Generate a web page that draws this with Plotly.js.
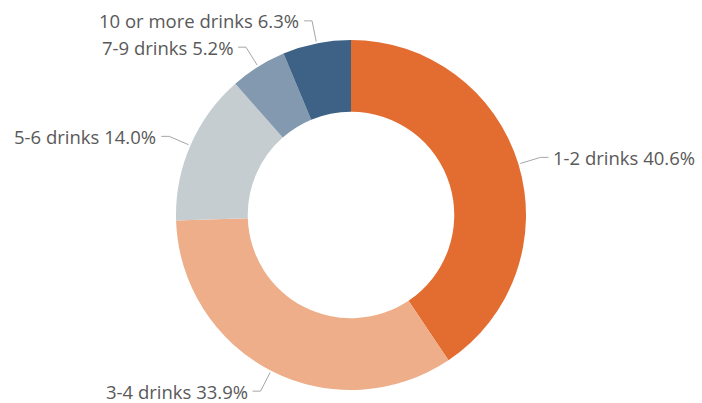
<!DOCTYPE html>
<html><head><meta charset="utf-8">
<script src="https://cdn.plot.ly/plotly-3.0.1.min.js"></script>
<style>html,body{margin:0;padding:0;background:#fff}#chart{width:702px;height:403px}</style>
</head><body><div id="chart"></div>
<script>
const categories = ["1-2 drinks", "3-4 drinks", "5-6 drinks", "7-9 drinks", "10 or more drinks"];
const values = [40.6, 33.9, 14.0, 5.2, 6.3];
const colors = ["#E36C30", "#EDAE89", "#C6CDD1", "#8299B0", "#3D6286"];

const W = 702, H = 403;
const dom = {x: [176 / W, 526 / W], y: [(H - 390) / H, (H - 40) / H]};
const cx = (dom.x[0] + dom.x[1]) / 2 * W;
const cy = H - (dom.y[0] + dom.y[1]) / 2 * H;
const R = Math.min((dom.x[1] - dom.x[0]) * W, (dom.y[1] - dom.y[0]) * H) / 2;
const elbowR = R + 23, horiz = 8, gap = 3;
const total = values.reduce((a, b) => a + b, 0);

const shapes = [], annotations = [];
let cum = 0;
values.forEach((v, i) => {
  const mid = (cum + v / 2) / total * 2 * Math.PI; cum += v;
  const dx = Math.sin(mid), dy = -Math.cos(mid);
  const ax = cx + (R + 2) * dx, ay = cy + (R + 2) * dy;
  const ex = cx + elbowR * dx, ey = cy + elbowR * dy;
  const side = dx >= 0 ? 1 : -1;
  const hx = ex + side * horiz;
  const px = x => x / W, py = y => (H - y) / H;
  shapes.push({type: 'path', xref: 'paper', yref: 'paper',
    path: `M${px(ax)},${py(ay)} L${px(ex)},${py(ey)} L${px(hx)},${py(ey)}`,
    line: {color: '#A6A6A6', width: 1}});
  annotations.push({xref: 'paper', yref: 'paper', x: px(hx + side * gap), y: py(ey),
    xanchor: side > 0 ? 'left' : 'right', yanchor: 'middle', showarrow: false,
    text: categories[i] + ' ' + v.toFixed(1) + '%',
    font: {family: 'Open Sans, sans-serif', size: 18.5, color: '#595959'}});
});

Plotly.newPlot('chart', [{
  type: 'pie', labels: categories, values: values, sort: false,
  direction: 'clockwise', rotation: 0, hole: 0.59,
  marker: {colors: colors, line: {width: 0}},
  textinfo: 'none', hoverinfo: 'label+percent', showlegend: false,
  domain: dom
}], {
  width: W, height: H, margin: {l: 0, r: 0, t: 0, b: 0},
  paper_bgcolor: '#fff', showlegend: false,
  shapes: shapes, annotations: annotations
}, {displayModeBar: false, staticPlot: true});
</script></body></html>
